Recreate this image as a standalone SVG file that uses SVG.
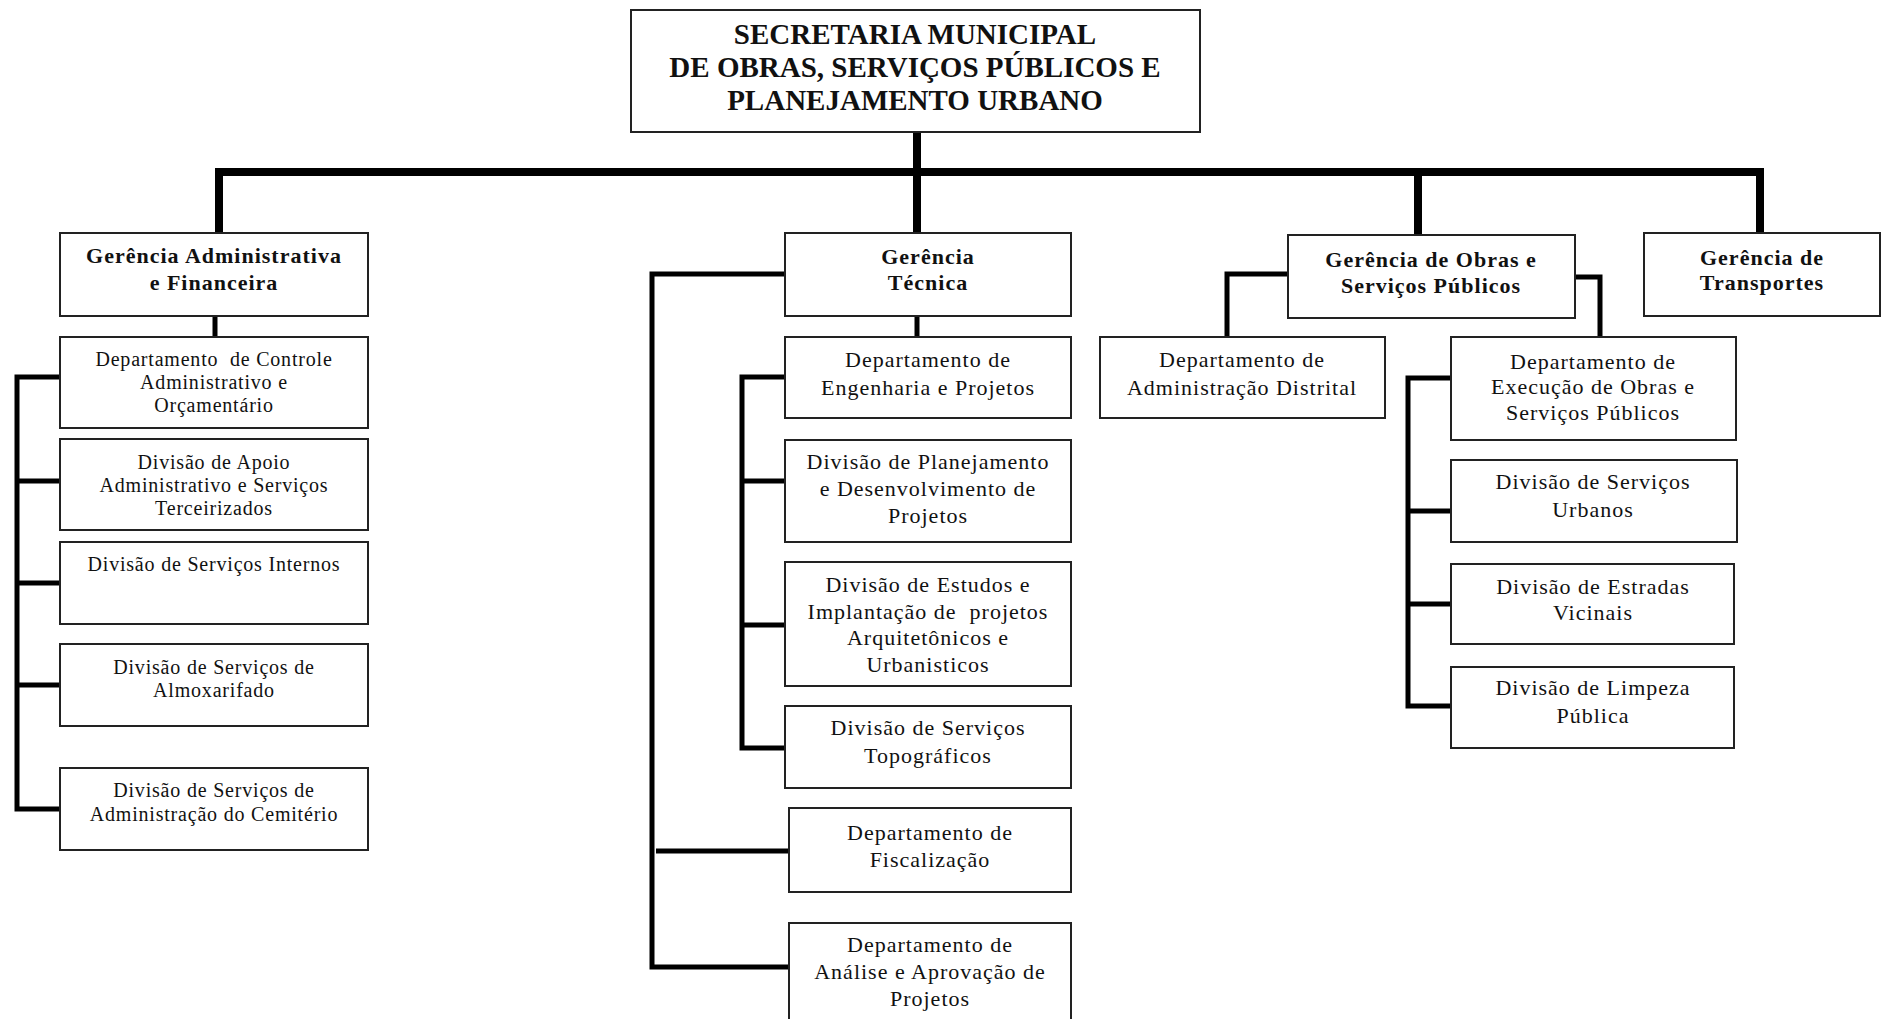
<svg xmlns="http://www.w3.org/2000/svg" width="1885" height="1019" viewBox="0 0 1885 1019">
  <style>
    .box { fill: #ffffff; stroke: #222222; stroke-width: 2; }
    .t { font-family: "Liberation Serif", "Times New Roman", serif; fill: #111111; text-anchor: middle; }
    .s { font-size: 20px; letter-spacing: 0.8px; }
    .m { font-size: 22px; letter-spacing: 1px; }
    .b { font-size: 22px; font-weight: bold; letter-spacing: 1px; }
    .title { font-size: 29px; font-weight: bold; }
    .ln { fill: none; stroke: #000000; stroke-width: 5; stroke-linejoin: miter; stroke-linecap: butt; }
    .bus { fill: none; stroke: #000000; stroke-width: 8; }
  </style>
  <rect width="1885" height="1019" fill="#ffffff"/>

  <!-- connectors -->
  <g id="connectors">
    <line class="bus" x1="917" y1="132" x2="917" y2="233"/>
    <line class="bus" x1="215" y1="172" x2="1764" y2="172"/>
    <line class="bus" x1="219" y1="172" x2="219" y2="233"/>
    <line class="bus" x1="1418" y1="172" x2="1418" y2="235"/>
    <line class="bus" x1="1760" y1="172" x2="1760" y2="233"/>

    <!-- administrative branch -->
    <line class="ln" x1="215" y1="316" x2="215" y2="337" stroke-width="6"/>
    <path class="ln" d="M60,377 H17 V809 H60"/>
    <line class="ln" x1="17" y1="481" x2="60" y2="481"/>
    <line class="ln" x1="17" y1="583" x2="60" y2="583"/>
    <line class="ln" x1="17" y1="685" x2="60" y2="685"/>

    <!-- technical branch -->
    <line class="ln" x1="917" y1="316" x2="917" y2="337" stroke-width="6"/>
    <path class="ln" d="M785,274 H652 V967 H789"/>
    <line class="ln" x1="656" y1="851" x2="789" y2="851"/>
    <path class="ln" d="M785,377 H742 V748 H785"/>
    <line class="ln" x1="742" y1="481" x2="785" y2="481"/>
    <line class="ln" x1="742" y1="625" x2="785" y2="625"/>

    <!-- works and public services branch -->
    <path class="ln" d="M1288,274 H1227 V337" stroke-width="6"/>
    <path class="ln" d="M1575,277 H1600 V337" stroke-width="6"/>
    <path class="ln" d="M1451,378 H1408 V706 H1451"/>
    <line class="ln" x1="1408" y1="511" x2="1451" y2="511"/>
    <line class="ln" x1="1408" y1="604" x2="1451" y2="604"/>
  </g>

  <!-- top secretariat -->
  <g id="secretaria">
    <rect class="box" x="631" y="10" width="569" height="122"/>
    <text class="t title" x="915" y="44">SECRETARIA MUNICIPAL</text>
    <text class="t title" x="915" y="77">DE OBRAS, SERVIÇOS PÚBLICOS E</text>
    <text class="t title" x="915" y="110">PLANEJAMENTO URBANO</text>
  </g>

  <!-- Gerência Administrativa e Financeira -->
  <g id="gerencia-adm">
    <rect class="box" x="60" y="233" width="308" height="83"/>
    <text class="t b" x="214" y="263">Gerência Administrativa</text>
    <text class="t b" x="214" y="290">e Financeira</text>
  </g>
  <g id="dep-controle">
    <rect class="box" x="60" y="337" width="308" height="91"/>
    <text class="t s" x="214" y="366" xml:space="preserve">Departamento  de Controle</text>
    <text class="t s" x="214" y="389">Administrativo e</text>
    <text class="t s" x="214" y="412">Orçamentário</text>
  </g>
  <g id="div-apoio">
    <rect class="box" x="60" y="439" width="308" height="91"/>
    <text class="t s" x="214" y="469">Divisão de Apoio</text>
    <text class="t s" x="214" y="492">Administrativo e Serviços</text>
    <text class="t s" x="214" y="515">Terceirizados</text>
  </g>
  <g id="div-internos">
    <rect class="box" x="60" y="542" width="308" height="82"/>
    <text class="t s" x="214" y="571">Divisão de Serviços Internos</text>
  </g>
  <g id="div-almoxarifado">
    <rect class="box" x="60" y="644" width="308" height="82"/>
    <text class="t s" x="214" y="674">Divisão de Serviços de</text>
    <text class="t s" x="214" y="697">Almoxarifado</text>
  </g>
  <g id="div-cemiterio">
    <rect class="box" x="60" y="768" width="308" height="82"/>
    <text class="t s" x="214" y="797">Divisão de Serviços de</text>
    <text class="t s" x="214" y="821">Administração do Cemitério</text>
  </g>

  <!-- Gerência Técnica -->
  <g id="gerencia-tecnica">
    <rect class="box" x="785" y="233" width="286" height="83"/>
    <text class="t b" x="928" y="264">Gerência</text>
    <text class="t b" x="928" y="290">Técnica</text>
  </g>
  <g id="dep-engenharia">
    <rect class="box" x="785" y="337" width="286" height="81"/>
    <text class="t m" x="928" y="367">Departamento de</text>
    <text class="t m" x="928" y="395">Engenharia e Projetos</text>
  </g>
  <g id="div-planejamento">
    <rect class="box" x="785" y="440" width="286" height="102"/>
    <text class="t m" x="928" y="469">Divisão de Planejamento</text>
    <text class="t m" x="928" y="496">e Desenvolvimento de</text>
    <text class="t m" x="928" y="523">Projetos</text>
  </g>
  <g id="div-estudos">
    <rect class="box" x="785" y="562" width="286" height="124"/>
    <text class="t m" x="928" y="592">Divisão de Estudos e</text>
    <text class="t m" x="928" y="619" xml:space="preserve">Implantação de  projetos</text>
    <text class="t m" x="928" y="645">Arquitetônicos e</text>
    <text class="t m" x="928" y="672">Urbanisticos</text>
  </g>
  <g id="div-topograficos">
    <rect class="box" x="785" y="706" width="286" height="82"/>
    <text class="t m" x="928" y="735">Divisão de Serviços</text>
    <text class="t m" x="928" y="763">Topográficos</text>
  </g>
  <g id="dep-fiscalizacao">
    <rect class="box" x="789" y="808" width="282" height="84"/>
    <text class="t m" x="930" y="840">Departamento de</text>
    <text class="t m" x="930" y="867">Fiscalização</text>
  </g>
  <g id="dep-analise">
    <rect class="box" x="789" y="923" width="282" height="110"/>
    <text class="t m" x="930" y="952">Departamento de</text>
    <text class="t m" x="930" y="979">Análise e Aprovação de</text>
    <text class="t m" x="930" y="1006">Projetos</text>
  </g>

  <!-- Gerência de Obras e Serviços Públicos -->
  <g id="gerencia-obras">
    <rect class="box" x="1288" y="235" width="287" height="83"/>
    <text class="t b" x="1431" y="267">Gerência de Obras e</text>
    <text class="t b" x="1431" y="293">Serviços Públicos</text>
  </g>
  <g id="dep-distrital">
    <rect class="box" x="1100" y="337" width="285" height="81"/>
    <text class="t m" x="1242" y="367">Departamento de</text>
    <text class="t m" x="1242" y="395">Administração Distrital</text>
  </g>
  <g id="dep-execucao">
    <rect class="box" x="1451" y="337" width="285" height="103"/>
    <text class="t m" x="1593" y="369">Departamento de</text>
    <text class="t m" x="1593" y="394">Execução de Obras e</text>
    <text class="t m" x="1593" y="420">Serviços Públicos</text>
  </g>
  <g id="div-urbanos">
    <rect class="box" x="1451" y="460" width="286" height="82"/>
    <text class="t m" x="1593" y="489">Divisão de Serviços</text>
    <text class="t m" x="1593" y="517">Urbanos</text>
  </g>
  <g id="div-estradas">
    <rect class="box" x="1451" y="564" width="283" height="80"/>
    <text class="t m" x="1593" y="594">Divisão de Estradas</text>
    <text class="t m" x="1593" y="620">Vicinais</text>
  </g>
  <g id="div-limpeza">
    <rect class="box" x="1451" y="667" width="283" height="81"/>
    <text class="t m" x="1593" y="695">Divisão de Limpeza</text>
    <text class="t m" x="1593" y="723">Pública</text>
  </g>

  <!-- Gerência de Transportes -->
  <g id="gerencia-transportes">
    <rect class="box" x="1644" y="233" width="236" height="83"/>
    <text class="t b" x="1762" y="265">Gerência de</text>
    <text class="t b" x="1762" y="290">Transportes</text>
  </g>
</svg>
